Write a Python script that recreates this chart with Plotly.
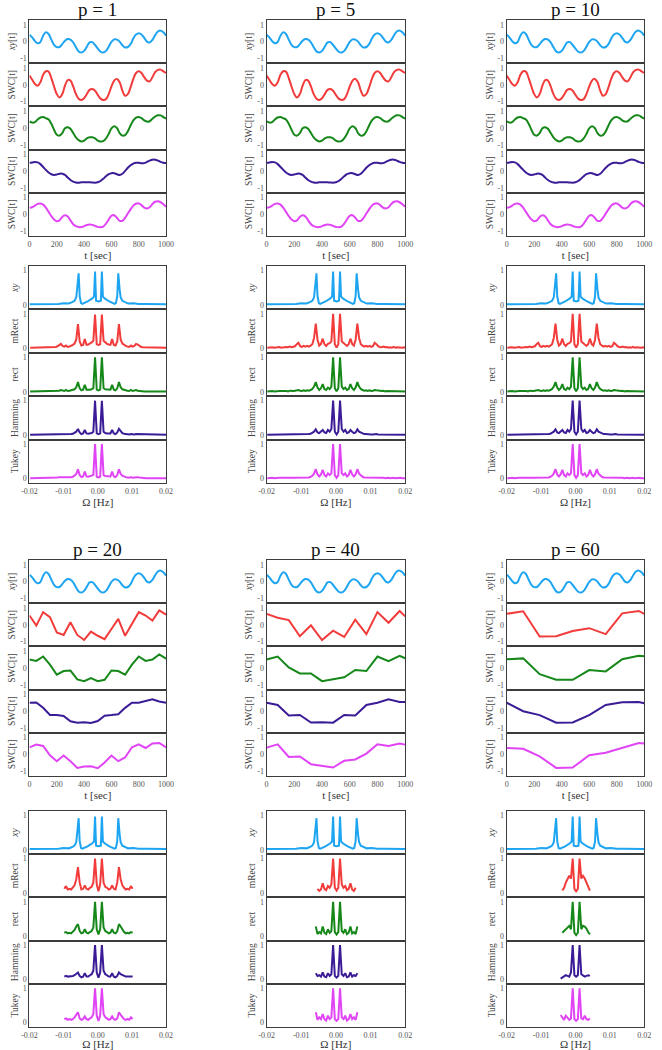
import numpy as np
import plotly.graph_objects as go

# ======================= DATA =======================
P_VALUES = [1, 5, 10, 20, 40, 60]
WINDOWS = ["mRect", "rect", "Hamming", "Tukey"]
TIME_TICKS = [0, 200, 400, 600, 800, 1000]
FREQ_TICKS = [-0.02, -0.01, 0.0, 0.01, 0.02]
FREQ_TICKTEXT = ["-0.02", "-0.01", "0.00", "0.01", "0.02"]

# --- time domain: xy[t] (same in every panel), sampled every 20 s
T_FINE = list(range(0, 1001, 20))
XY_T = [0.40, 0.25, 0.03, -0.10, -0.02, 0.35, 0.55, 0.45, 0.12, -0.20,
        -0.33, -0.32, -0.15, 0.05, 0.15, 0.12, -0.05, -0.33, -0.58, -0.65,
        -0.55, -0.30, -0.05, -0.03, -0.20, -0.42, -0.60, -0.65, -0.55, -0.30,
        -0.02, 0.13, 0.12, 0.00, -0.22, -0.35, -0.32, -0.15, 0.18, 0.42,
        0.50, 0.42, 0.22, 0.00, -0.05, 0.10, 0.38, 0.60, 0.65, 0.55, 0.35]

# --- SWC[t] for small p (1, 5, 10), sampled every 20 s
SWC_MRECT_FINE = [0.55, 0.30, 0.05, -0.05, 0.15, 0.60, 0.80, 0.78, 0.40, -0.10,
                  -0.55, -0.75, -0.55, -0.05, 0.28, 0.25, -0.10, -0.55, -0.82, -0.90,
                  -0.80, -0.55, -0.30, -0.25, -0.35, -0.60, -0.82, -0.90, -0.85, -0.55,
                  -0.10, 0.25, 0.35, 0.15, -0.35, -0.65, -0.55, -0.15, 0.35, 0.70,
                  0.80, 0.70, 0.45, 0.25, 0.20, 0.45, 0.75, 0.88, 0.90, 0.80, 0.70]
SWC_RECT_FINE = [0.40, 0.32, 0.35, 0.50, 0.62, 0.65, 0.58, 0.50, 0.25, -0.10,
                 -0.40, -0.45, -0.30, -0.02, 0.05, -0.05, -0.30, -0.55, -0.72, -0.80,
                 -0.75, -0.62, -0.55, -0.55, -0.62, -0.75, -0.80, -0.78, -0.62, -0.35,
                 -0.02, 0.10, 0.00, -0.30, -0.45, -0.42, -0.20, 0.15, 0.45, 0.62,
                 0.65, 0.58, 0.45, 0.38, 0.40, 0.55, 0.68, 0.75, 0.75, 0.65, 0.55]
SWC_HAMMING_FINE = [0.50, 0.52, 0.55, 0.52, 0.42, 0.25, 0.08, -0.08, -0.18, -0.22,
                    -0.20, -0.15, -0.15, -0.22, -0.38, -0.52, -0.62, -0.67, -0.68, -0.66,
                    -0.65, -0.65, -0.66, -0.67, -0.68, -0.65, -0.58, -0.45, -0.30, -0.18,
                    -0.12, -0.12, -0.18, -0.22, -0.15, 0.02, 0.20, 0.35, 0.45, 0.50,
                    0.50, 0.47, 0.48, 0.55, 0.63, 0.68, 0.68, 0.63, 0.55, 0.50, 0.48]
SWC_TUKEY_FINE = [0.40, 0.42, 0.52, 0.62, 0.65, 0.58, 0.40, 0.15, -0.10, -0.30,
                  -0.40, -0.35, -0.15, -0.05, -0.12, -0.35, -0.58, -0.70, -0.75, -0.75,
                  -0.70, -0.63, -0.60, -0.62, -0.68, -0.74, -0.76, -0.72, -0.55, -0.30,
                  -0.08, -0.05, -0.20, -0.38, -0.38, -0.20, 0.05, 0.30, 0.52, 0.63,
                  0.65, 0.55, 0.40, 0.35, 0.42, 0.62, 0.75, 0.78, 0.72, 0.60, 0.45]

# --- SWC[t] for p = 20 (every 50 s)
T_P20 = list(range(0, 1001, 50))
MRECT_T20 = [0.55, -0.05, 0.75, 0.45, -0.45, -0.60, 0.15, -0.60, -0.90, -0.40, -0.65,
             -0.85, -0.25, 0.35, -0.65, 0.05, 0.75, 0.55, 0.25, 0.85, 0.60]
RECT_T20 = [0.50, 0.42, 0.68, 0.20, -0.40, -0.18, -0.15, -0.68, -0.78, -0.60, -0.78,
            -0.70, -0.15, -0.18, -0.40, 0.20, 0.68, 0.42, 0.50, 0.80, 0.55]
HAMMING_T20 = [0.50, 0.52, 0.20, -0.22, -0.22, -0.28, -0.60, -0.68, -0.65, -0.70, -0.58,
               -0.27, -0.23, -0.18, 0.20, 0.50, 0.50, 0.58, 0.70, 0.58, 0.50]
TUKEY_T20 = [0.42, 0.58, 0.50, -0.05, -0.40, -0.07, -0.40, -0.80, -0.72, -0.70, -0.82,
             -0.48, -0.07, -0.40, -0.18, 0.42, 0.60, 0.38, 0.65, 0.68, 0.42]

# --- SWC[t] for p = 40 (every 80 s)
T_P40 = [0, 80, 160, 240, 320, 400, 480, 560, 640, 720, 800, 880, 960, 1000]
MRECT_T40 = [0.65, 0.42, 0.28, -0.68, -0.03, -0.90, -0.35, -0.72, 0.30, -0.55, 0.75, 0.12, 0.82, 0.50]
RECT_T40 = [0.50, 0.68, 0.03, -0.32, -0.32, -0.78, -0.67, -0.55, -0.12, -0.18, 0.68, 0.40, 0.72, 0.58]
HAMMING_T40 = [0.50, 0.37, -0.25, -0.22, -0.67, -0.65, -0.68, -0.22, -0.25, 0.37, 0.50, 0.70, 0.55, 0.55]
TUKEY_T40 = [0.40, 0.60, -0.15, -0.12, -0.58, -0.70, -0.78, -0.38, -0.30, 0.05, 0.60, 0.50, 0.65, 0.58]

# --- SWC[t] for p = 60 (every 120 s)
T_P60 = [0, 120, 240, 360, 480, 600, 720, 840, 960, 1000]
MRECT_T60 = [0.65, 0.80, -0.70, -0.68, -0.37, -0.20, -0.55, 0.68, 0.82, 0.65]
RECT_T60 = [0.52, 0.57, -0.37, -0.70, -0.70, -0.12, -0.20, 0.52, 0.72, 0.70]
HAMMING_T60 = [0.50, 0.00, -0.23, -0.68, -0.67, -0.23, 0.37, 0.53, 0.55, 0.47]
TUKEY_T60 = [0.38, 0.33, -0.12, -0.80, -0.78, -0.05, 0.10, 0.40, 0.68, 0.65]

# --- spectrum of xy (same in every panel)
XY_F = [-0.020, -0.016, -0.0135, -0.0115, -0.010, -0.0085, -0.0075, -0.0068, -0.0063, -0.0060,
        -0.0056, -0.0053, -0.0049, -0.0045, -0.0030, -0.0016, -0.0011, -0.0008, -0.0005,
        0.0002,
        0.0009, 0.0012, 0.0015, 0.0020, 0.0034, 0.0049, 0.0053, 0.0057, 0.0060, 0.0064,
        0.0067, 0.0072, 0.0079, 0.0089, 0.0104, 0.0119, 0.0139, 0.016, 0.020]
XY_P = [0.02, 0.02, 0.03, 0.03, 0.05, 0.04, 0.08, 0.12, 0.22, 0.45,
        0.92, 0.25, 0.05, 0.03, 0.10, 0.19, 0.24, 0.97, 0.12,
        0.10,
        0.12, 0.97, 0.24, 0.19, 0.10, 0.03, 0.05, 0.25, 0.92, 0.45,
        0.22, 0.12, 0.08, 0.04, 0.05, 0.03, 0.03, 0.02, 0.02]

# --- spectral bins of the SWC estimates (bin k at 0.0002 + 0.0005*k Hz)
BIN_INDEX = list(range(-40, 41))
BIN_HZ = [round(0.0002 + 0.0005 * k, 5) for k in BIN_INDEX]

MRECT_P1 = [0.02, 0.02, 0.02, 0.02, 0.02, 0.02, 0.02, 0.03,
            0.04, 0.02, 0.02, 0.02, 0.02, 0.03, 0.03, 0.04,
            0.06, 0.11, 0.13, 0.07, 0.05, 0.08, 0.04, 0.05,
            0.07, 0.10, 0.14, 0.25, 0.70, 0.20, 0.08, 0.10,
            0.27, 0.10, 0.11, 0.13, 0.17, 0.22, 0.98, 0.12,
            0.10,
            0.12, 0.98, 0.22, 0.17, 0.13, 0.11, 0.10, 0.27,
            0.10, 0.08, 0.20, 0.70, 0.25, 0.14, 0.10, 0.07,
            0.05, 0.04, 0.08, 0.05, 0.07, 0.13, 0.11, 0.06,
            0.04, 0.03, 0.03, 0.02, 0.02, 0.02, 0.02, 0.04,
            0.03, 0.02, 0.02, 0.02, 0.02, 0.02, 0.02, 0.02]
RECT_P1 = [0.01, 0.01, 0.01, 0.01, 0.01, 0.01, 0.01, 0.01,
           0.02, 0.01, 0.01, 0.01, 0.01, 0.01, 0.02, 0.02,
           0.02, 0.03, 0.05, 0.03, 0.02, 0.05, 0.02, 0.03,
           0.04, 0.05, 0.07, 0.13, 0.28, 0.10, 0.04, 0.06,
           0.20, 0.06, 0.05, 0.06, 0.07, 0.10, 1.00, 0.06,
           0.04,
           0.06, 1.00, 0.10, 0.07, 0.06, 0.05, 0.06, 0.20,
           0.06, 0.04, 0.10, 0.28, 0.13, 0.07, 0.05, 0.04,
           0.03, 0.02, 0.05, 0.02, 0.03, 0.05, 0.03, 0.02,
           0.02, 0.02, 0.01, 0.01, 0.01, 0.01, 0.01, 0.02,
           0.01, 0.01, 0.01, 0.01, 0.01, 0.01, 0.01, 0.01]
HAMMING_P1 = [0.01, 0.01, 0.01, 0.01, 0.01, 0.01, 0.01, 0.01,
              0.01, 0.01, 0.01, 0.01, 0.01, 0.01, 0.02, 0.02,
              0.02, 0.03, 0.03, 0.02, 0.02, 0.03, 0.02, 0.03,
              0.03, 0.04, 0.06, 0.10, 0.18, 0.08, 0.03, 0.05,
              0.15, 0.05, 0.04, 0.05, 0.06, 0.10, 1.00, 0.05,
              0.03,
              0.05, 1.00, 0.10, 0.06, 0.05, 0.04, 0.05, 0.15,
              0.05, 0.03, 0.08, 0.18, 0.10, 0.06, 0.04, 0.03,
              0.03, 0.02, 0.03, 0.02, 0.02, 0.03, 0.03, 0.02,
              0.02, 0.02, 0.01, 0.01, 0.01, 0.01, 0.01, 0.01,
              0.01, 0.01, 0.01, 0.01, 0.01, 0.01, 0.01, 0.01]
TUKEY_P1 = [0.01, 0.01, 0.01, 0.01, 0.01, 0.01, 0.01, 0.01,
            0.02, 0.01, 0.01, 0.01, 0.01, 0.02, 0.02, 0.02,
            0.03, 0.04, 0.04, 0.03, 0.02, 0.04, 0.02, 0.03,
            0.04, 0.05, 0.08, 0.13, 0.27, 0.10, 0.04, 0.06,
            0.20, 0.06, 0.05, 0.06, 0.07, 0.10, 1.00, 0.05,
            0.03,
            0.05, 1.00, 0.10, 0.07, 0.06, 0.05, 0.06, 0.20,
            0.06, 0.04, 0.10, 0.27, 0.13, 0.08, 0.05, 0.04,
            0.03, 0.02, 0.04, 0.02, 0.03, 0.04, 0.04, 0.03,
            0.02, 0.02, 0.02, 0.01, 0.01, 0.01, 0.01, 0.02,
            0.01, 0.01, 0.01, 0.01, 0.01, 0.01, 0.01, 0.01]

MRECT_P5 = [0.02, 0.03, 0.02, 0.03, 0.02, 0.03, 0.02, 0.04,
            0.02, 0.03, 0.02, 0.04, 0.03, 0.05, 0.03, 0.04,
            0.06, 0.12, 0.16, 0.06, 0.04, 0.07, 0.05, 0.07,
            0.05, 0.08, 0.12, 0.30, 0.72, 0.25, 0.08, 0.13,
            0.28, 0.12, 0.07, 0.13, 0.15, 0.20, 1.00, 0.12,
            0.02,
            0.12, 1.00, 0.20, 0.15, 0.13, 0.07, 0.12, 0.28,
            0.13, 0.08, 0.25, 0.72, 0.30, 0.12, 0.08, 0.05,
            0.07, 0.05, 0.07, 0.04, 0.06, 0.16, 0.12, 0.06,
            0.04, 0.03, 0.05, 0.03, 0.04, 0.02, 0.03, 0.02,
            0.04, 0.02, 0.03, 0.02, 0.03, 0.02, 0.03, 0.02]
RECT_P5 = [0.01, 0.02, 0.01, 0.02, 0.01, 0.02, 0.01, 0.02,
           0.02, 0.01, 0.02, 0.02, 0.01, 0.03, 0.02, 0.02,
           0.03, 0.04, 0.05, 0.03, 0.02, 0.04, 0.02, 0.04,
           0.03, 0.05, 0.08, 0.15, 0.28, 0.12, 0.05, 0.10,
           0.22, 0.08, 0.05, 0.12, 0.08, 0.15, 1.00, 0.10,
           0.01,
           0.10, 1.00, 0.15, 0.08, 0.12, 0.05, 0.08, 0.22,
           0.10, 0.05, 0.12, 0.28, 0.15, 0.08, 0.05, 0.03,
           0.04, 0.02, 0.04, 0.02, 0.03, 0.05, 0.04, 0.03,
           0.02, 0.02, 0.03, 0.01, 0.02, 0.02, 0.01, 0.02,
           0.02, 0.01, 0.02, 0.01, 0.02, 0.01, 0.02, 0.01]
HAMMING_P5 = [0.01, 0.01, 0.01, 0.01, 0.01, 0.01, 0.01, 0.01,
              0.01, 0.01, 0.02, 0.01, 0.01, 0.02, 0.02, 0.02,
              0.02, 0.03, 0.03, 0.02, 0.02, 0.03, 0.02, 0.03,
              0.03, 0.04, 0.07, 0.10, 0.17, 0.08, 0.06, 0.10,
              0.15, 0.08, 0.06, 0.15, 0.10, 0.18, 1.00, 0.10,
              0.02,
              0.10, 1.00, 0.18, 0.10, 0.15, 0.06, 0.08, 0.15,
              0.10, 0.06, 0.08, 0.17, 0.10, 0.07, 0.04, 0.03,
              0.03, 0.02, 0.03, 0.02, 0.02, 0.03, 0.03, 0.02,
              0.02, 0.02, 0.02, 0.01, 0.01, 0.02, 0.01, 0.01,
              0.01, 0.01, 0.01, 0.01, 0.01, 0.01, 0.01, 0.01]
TUKEY_P5 = [0.01, 0.02, 0.01, 0.02, 0.01, 0.02, 0.01, 0.02,
            0.02, 0.01, 0.02, 0.02, 0.01, 0.02, 0.02, 0.02,
            0.03, 0.04, 0.04, 0.03, 0.02, 0.03, 0.02, 0.03,
            0.03, 0.05, 0.08, 0.14, 0.27, 0.12, 0.06, 0.12,
            0.25, 0.10, 0.06, 0.15, 0.10, 0.15, 1.00, 0.10,
            0.02,
            0.10, 1.00, 0.15, 0.10, 0.15, 0.06, 0.10, 0.25,
            0.12, 0.06, 0.12, 0.27, 0.14, 0.08, 0.05, 0.03,
            0.03, 0.02, 0.03, 0.02, 0.03, 0.04, 0.04, 0.03,
            0.02, 0.02, 0.02, 0.01, 0.02, 0.02, 0.01, 0.02,
            0.02, 0.01, 0.02, 0.01, 0.02, 0.01, 0.02, 0.01]

MRECT_P20 = [0.12, 0.20, 0.10, 0.12, 0.10, 0.15, 0.22, 0.40,
             0.75, 0.30, 0.10, 0.12, 0.22, 0.12, 0.10, 0.15,
             0.18, 0.30, 1.00, 0.25,
             0.05,
             0.25, 1.00, 0.30, 0.18,
             0.15, 0.10, 0.12, 0.22, 0.12, 0.10, 0.30, 0.75,
             0.40, 0.22, 0.15, 0.10, 0.12, 0.10, 0.20, 0.12]
RECT_P20 = [0.10, 0.12, 0.08, 0.10, 0.08, 0.12, 0.18, 0.28,
            0.35, 0.15, 0.08, 0.10, 0.20, 0.10, 0.08, 0.12,
            0.15, 0.25, 1.00, 0.20,
            0.05,
            0.20, 1.00, 0.25, 0.15,
            0.12, 0.08, 0.10, 0.20, 0.10, 0.08, 0.15, 0.35,
            0.28, 0.18, 0.12, 0.08, 0.10, 0.08, 0.12, 0.10]
HAMMING_P20 = [0.08, 0.10, 0.08, 0.08, 0.08, 0.10, 0.12, 0.15,
               0.20, 0.10, 0.06, 0.08, 0.18, 0.08, 0.08, 0.12,
               0.15, 0.25, 1.00, 0.20,
               0.05,
               0.20, 1.00, 0.25, 0.15,
               0.12, 0.08, 0.08, 0.18, 0.08, 0.06, 0.10, 0.20,
               0.15, 0.12, 0.10, 0.08, 0.08, 0.08, 0.10, 0.08]
TUKEY_P20 = [0.10, 0.12, 0.08, 0.10, 0.08, 0.10, 0.15, 0.22,
             0.30, 0.12, 0.08, 0.10, 0.18, 0.10, 0.08, 0.12,
             0.15, 0.25, 1.00, 0.20,
             0.05,
             0.20, 1.00, 0.25, 0.15,
             0.12, 0.08, 0.10, 0.18, 0.10, 0.08, 0.12, 0.30,
             0.22, 0.15, 0.10, 0.08, 0.10, 0.08, 0.15, 0.10]

MRECT_P40 = [0.12, 0.06, 0.10, 0.28, 0.12, 0.08, 0.20, 0.15, 0.25, 1.00, 0.15,
             0.07,
             0.15, 1.00, 0.25, 0.15, 0.20, 0.08, 0.12, 0.28, 0.10, 0.06, 0.15]
RECT_P40 = [0.28, 0.06, 0.12, 0.08, 0.28, 0.10, 0.06, 0.20, 0.10, 0.15, 1.00, 0.12,
            0.05,
            0.12, 1.00, 0.15, 0.10, 0.20, 0.06, 0.10, 0.28, 0.08, 0.12, 0.06, 0.28]
HAMMING_P40 = [0.18, 0.10, 0.12, 0.08, 0.20, 0.08, 0.06, 0.18, 0.10, 0.15, 1.00, 0.10,
               0.05,
               0.10, 1.00, 0.15, 0.10, 0.18, 0.06, 0.08, 0.20, 0.08, 0.12, 0.10, 0.18]
TUKEY_P40 = [0.30, 0.08, 0.15, 0.10, 0.25, 0.10, 0.06, 0.20, 0.10, 0.15, 1.00, 0.10,
             0.05,
             0.10, 1.00, 0.15, 0.10, 0.20, 0.06, 0.10, 0.25, 0.10, 0.15, 0.08, 0.30]

MRECT_P60 = [0.07, 0.15, 0.30, 0.42, 0.50, 0.42, 1.00, 0.12, 0.05,
             0.12, 1.00, 0.42, 0.50, 0.42, 0.30, 0.15, 0.07]
RECT_P60 = [0.10, 0.15, 0.22, 0.28, 0.30, 0.20, 1.00, 0.10, 0.03,
            0.10, 1.00, 0.20, 0.30, 0.28, 0.22, 0.12, 0.05]
HAMMING_P60 = [0.02, 0.06, 0.10, 0.12, 0.10, 0.08, 0.20, 1.00, 0.12, 0.08,
               0.12, 1.00, 0.15, 0.12, 0.08, 0.10, 0.12, 0.10]
TUKEY_P60 = [0.22, 0.15, 0.08, 0.20, 0.15, 0.08, 0.12, 1.00, 0.10, 0.05,
             0.10, 1.00, 0.12, 0.10, 0.20, 0.10, 0.08, 0.12]

# first spectral bin index of every SWC spectrum
SPEC_FIRST_BIN = {
    1: [-40, -40, -40, -40], 5: [-40, -40, -40, -40], 10: [-40, -40, -40, -40],
    20: [-20, -20, -20, -20], 40: [-11, -12, -12, -12], 60: [-8, -8, -9, -9],
}

SWC_TIME = {
    1: (T_FINE, [SWC_MRECT_FINE, SWC_RECT_FINE, SWC_HAMMING_FINE, SWC_TUKEY_FINE]),
    5: (T_FINE, [SWC_MRECT_FINE, SWC_RECT_FINE, SWC_HAMMING_FINE, SWC_TUKEY_FINE]),
    10: (T_FINE, [SWC_MRECT_FINE, SWC_RECT_FINE, SWC_HAMMING_FINE, SWC_TUKEY_FINE]),
    20: (T_P20, [MRECT_T20, RECT_T20, HAMMING_T20, TUKEY_T20]),
    40: (T_P40, [MRECT_T40, RECT_T40, HAMMING_T40, TUKEY_T40]),
    60: (T_P60, [MRECT_T60, RECT_T60, HAMMING_T60, TUKEY_T60]),
}
SWC_SPEC = {
    1: [MRECT_P1, RECT_P1, HAMMING_P1, TUKEY_P1],
    5: [MRECT_P5, RECT_P5, HAMMING_P5, TUKEY_P5],
    10: [MRECT_P5, RECT_P5, HAMMING_P5, TUKEY_P5],
    20: [MRECT_P20, RECT_P20, HAMMING_P20, TUKEY_P20],
    40: [MRECT_P40, RECT_P40, HAMMING_P40, TUKEY_P40],
    60: [MRECT_P60, RECT_P60, HAMMING_P60, TUKEY_P60],
}

# ======================= STYLE =======================
COLORS = ["#1EA5F2", "#F23B3B", "#16881A", "#3B1C96", "#E044F5"]
TIME_YLABELS = ["<i>xy</i>[t]", "SWC[t]", "SWC[t]", "SWC[t]", "SWC[t]"]
FREQ_YLABELS = ["<i>xy</i>", "mRect", "rect", "Hamming", "Tukey"]
SERIF = "Liberation Serif, DejaVu Serif, serif"
W, H = 662, 1050
COL_PX = [(22, 162), (265, 407), (511, 652)]
BLOCK_PX = [(20, 236), (266, 483), (560, 776), (811, 1027)]
TITLE_Y_PX = [10, 549]
TICK_FONT = dict(family=SERIF, size=8, color="#555")
YTITLE_FONT = dict(family=SERIF, size=9.5, color="#444")
XTITLE_FONT = dict(family=SERIF, size=11, color="#333")

fig = go.Figure()
layout = {}
annotations = []
n = 0
for pi, p in enumerate(P_VALUES):
    r, c = divmod(pi, 3)
    x0, x1 = COL_PX[c]
    annotations.append(dict(text=f"p = {p}", x=(x0 + x1) / 2 / W, y=1 - TITLE_Y_PX[r] / H,
                            xref="paper", yref="paper", showarrow=False, xanchor="center",
                            yanchor="middle", font=dict(family=SERIF, size=19, color="#111")))
    for kind in (0, 1):
        top, bot = BLOCK_PX[2 * r + kind]
        h = (bot - top) / 5
        for i in range(5):
            n += 1
            suffix = "" if n == 1 else str(n)
            # ---- trace
            if kind == 0:
                if i == 0:
                    xs, ys, shape = T_FINE, XY_T, "spline"
                else:
                    tt, series = SWC_TIME[p]
                    xs, ys = tt, series[i - 1]
                    shape = "spline" if p <= 10 else "linear"
            else:
                shape = "linear"
                if i == 0:
                    xs, ys = XY_F, XY_P
                else:
                    vals = SWC_SPEC[p][i - 1]
                    k0 = SPEC_FIRST_BIN[p][i - 1] + 40
                    xs, ys = BIN_HZ[k0:k0 + len(vals)], vals
            fig.add_trace(go.Scatter(x=xs, y=ys, mode="lines", xaxis="x" + suffix, yaxis="y" + suffix,
                                     line=dict(color=COLORS[i], width=2, shape=shape),
                                     showlegend=False, hoverinfo="skip"))
            # ---- axes
            last = (i == 4)
            xa = dict(domain=[x0 / W, x1 / W], anchor="y" + suffix, showline=True, mirror=True,
                      linecolor="#3c3c3c", linewidth=1, showgrid=False, zeroline=False, ticks="",
                      showticklabels=last, tickfont=TICK_FONT)
            ya = dict(domain=[1 - (top + (i + 1) * h) / H, 1 - (top + i * h) / H], anchor="x" + suffix,
                      showline=True, mirror=True, linecolor="#3c3c3c", linewidth=1, showgrid=False,
                      zeroline=False, ticks="", tickfont=TICK_FONT)
            if kind == 0:
                xa.update(range=[0, 1000], tickvals=TIME_TICKS)
                ya.update(range=[-1.28, 1.28], tickvals=[-1, 0, 1], ticktext=["-1", "0", "1"],
                          title=dict(text=TIME_YLABELS[i], standoff=2, font=YTITLE_FONT))
                if last:
                    xa.update(title=dict(text="t [sec]", standoff=2, font=XTITLE_FONT))
            else:
                xa.update(range=[-0.02, 0.02], tickvals=FREQ_TICKS, ticktext=FREQ_TICKTEXT)
                ya.update(range=[-0.13, 1.13], tickvals=[0, 1], ticktext=["0", "1"],
                          title=dict(text=FREQ_YLABELS[i], standoff=2, font=YTITLE_FONT))
                if last:
                    xa.update(title=dict(text="Ω [Hz]", standoff=2, font=XTITLE_FONT))
            layout["xaxis" + suffix] = xa
            layout["yaxis" + suffix] = ya

fig.update_layout(**layout)
fig.update_layout(width=W, height=H, autosize=False, margin=dict(l=0, r=0, t=0, b=0),
                  paper_bgcolor="white", plot_bgcolor="white", annotations=annotations,
                  showlegend=False)
fig.write_html("out.html", config={"displayModeBar": False},
               post_script="document.body.style.margin='0px';")
